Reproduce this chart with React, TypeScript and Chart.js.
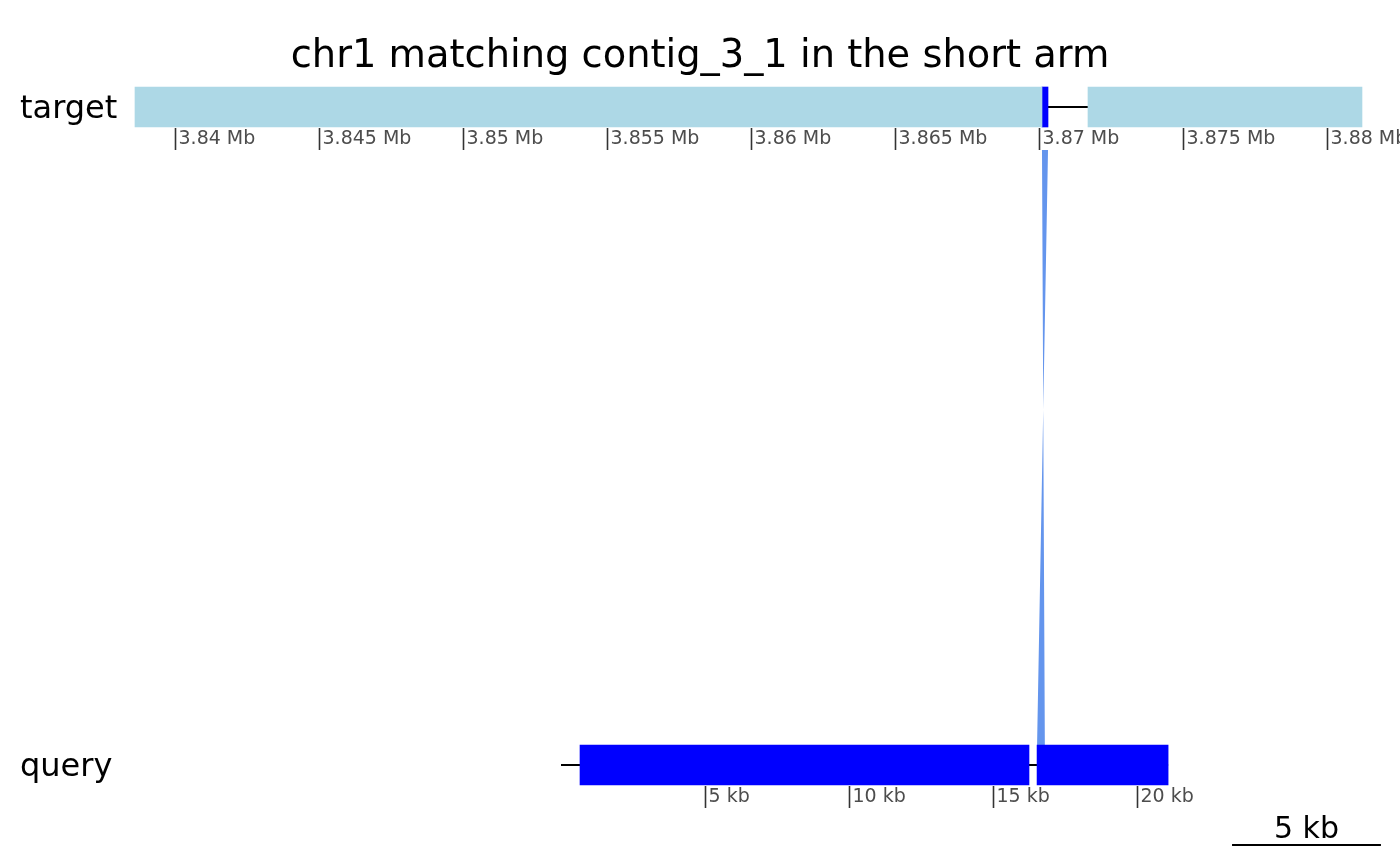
import React, { useEffect, useRef } from 'react';
import { Chart, registerables } from 'chart.js';

Chart.register(...registerables);

// ---------------- data ----------------
const TITLE = 'chr1 matching contig_3_1 in the short arm';
const ROW_NAMES = ['query', 'target'];

// target sequence (Mb)
const TARGET_SEQ = [3.838611, 3.881215];
const TARGET_BLOCKS = [
  [3.838611, 3.870104],
  [3.871701, 3.881215],
];
const TARGET_HITS = [[3.870104, 3.870313]];
const TARGET_TICKS = [3.84, 3.845, 3.85, 3.855, 3.86, 3.865, 3.87, 3.875, 3.88];
const TARGET_TICK_LABELS = ['3.84 Mb', '3.845 Mb', '3.85 Mb', '3.855 Mb', '3.86 Mb', '3.865 Mb', '3.87 Mb', '3.875 Mb', '3.88 Mb'];

// query sequence (kb)
const QUERY_SEQ = [0, 21.08];
const QUERY_BLOCKS = [
  [0.66, 16.25],
  [16.53, 21.08],
];
const QUERY_TICKS = [5, 10, 15, 20];
const QUERY_TICK_LABELS = ['5 kb', '10 kb', '15 kb', '20 kb'];

// link (inverted match): target Mb, query kb
const LINK_TARGET = [3.870104, 3.870313];
const LINK_QUERY = [16.53, 16.8];

// scale bar (kb on query axis)
const SCALE_BAR = [23.3, 28.47];
const SCALE_BAR_LABEL = '5 kb';

// ---------------- layout constants ----------------
const FONT = "'DejaVu Sans', sans-serif";
const W = 1400;
const H = 865;
const PAD_X = 20;
const AREA_LEFT = 130;
const AREA_RIGHT = W - PAD_X;
const AREA_TOP = 80;
const PX_PER_KB = 28.8;
const ROW_PX = 658; // pixels between rows
const Y_MAX = 1 + (107 - AREA_TOP) / ROW_PX;
const Y_MIN = Y_MAX - (H - AREA_TOP) / ROW_PX;
const T_ORIGIN_PX = 175; // 3.84 Mb
const Q_ORIGIN_PX = 561; // 0 kb
const XT_MIN = 3.84 + (AREA_LEFT - T_ORIGIN_PX) / PX_PER_KB / 1000;
const XT_MAX = 3.84 + (AREA_RIGHT - T_ORIGIN_PX) / PX_PER_KB / 1000;
const XQ_MIN = (AREA_LEFT - Q_ORIGIN_PX) / PX_PER_KB;
const XQ_MAX = (AREA_RIGHT - Q_ORIGIN_PX) / PX_PER_KB;
const TICK_TOP_OFFSET = 21; // px below the row centre
const TICK_LEN = 22;
const LINK_Y = [1 - 43 / ROW_PX, 20 / ROW_PX];
const SCALE_BAR_Y = -80 / ROW_PX;
const TITLE_SIZE = 38.4;
const TITLE_PAD_TOP = 34;

const decorPlugin = {
  id: 'decorPlugin',
  beforeDatasetsDraw(chart: any) {
    const { ctx, scales } = chart;
    const xT = scales.xT, xQ = scales.xQ, y = scales.y;
    // link ribbon
    const top = y.getPixelForValue(LINK_Y[0]);
    const bot = y.getPixelForValue(LINK_Y[1]);
    ctx.save();
    ctx.fillStyle = '#6495ED';
    ctx.beginPath();
    ctx.moveTo(xT.getPixelForValue(LINK_TARGET[0]), top);
    ctx.lineTo(xT.getPixelForValue(LINK_TARGET[1]), top);
    ctx.lineTo(xQ.getPixelForValue(LINK_QUERY[0]), bot);
    ctx.lineTo(xQ.getPixelForValue(LINK_QUERY[1]), bot);
    ctx.closePath();
    ctx.fill();
    ctx.restore();
  },
  afterDatasetsDraw(chart: any) {
    const { ctx, scales } = chart;
    const xT = scales.xT, xQ = scales.xQ, y = scales.y;
    const drawAxis = (scale: any, rowValue: number, ticks: number[], labels: string[]) => {
      const y0 = y.getPixelForValue(rowValue) + TICK_TOP_OFFSET;
      ctx.save();
      ctx.strokeStyle = '#333333';
      ctx.lineWidth = 1.6;
      ctx.fillStyle = '#4D4D4D';
      ctx.font = `19px ${FONT}`;
      ctx.textAlign = 'left';
      ctx.textBaseline = 'middle';
      ticks.forEach((v, i) => {
        const x = Math.round(scale.getPixelForValue(v)) + 0.5;
        ctx.beginPath();
        ctx.moveTo(x, y0);
        ctx.lineTo(x, y0 + TICK_LEN);
        ctx.stroke();
        ctx.fillText(labels[i], x + 3, y0 + 11.5);
      });
      ctx.restore();
    };
    drawAxis(xT, 1, TARGET_TICKS, TARGET_TICK_LABELS);
    drawAxis(xQ, 0, QUERY_TICKS, QUERY_TICK_LABELS);

    // scale bar label
    const cx = (xQ.getPixelForValue(SCALE_BAR[0]) + xQ.getPixelForValue(SCALE_BAR[1])) / 2;
    const cy = y.getPixelForValue(SCALE_BAR_Y);
    ctx.save();
    ctx.fillStyle = '#000';
    ctx.font = `30px ${FONT}`;
    ctx.textAlign = 'center';
    ctx.textBaseline = 'alphabetic';
    ctx.fillText(SCALE_BAR_LABEL, cx, cy - 7);
    ctx.restore();
  },
};

const hiddenX = (min: number, max: number) => ({
  type: 'linear',
  axis: 'x',
  position: 'bottom',
  display: false,
  offset: false,
  min,
  max,
  grid: { offset: false },
});

export default function App() {
  const ref = useRef<HTMLCanvasElement | null>(null);
  useEffect(() => {
    document.body.style.margin = '0';
    const canvas = ref.current!;
    const line = (axisId: string, a: number, b: number, yv: number, w: number) => ({
      type: 'line',
      indexAxis: 'x',
      xAxisID: axisId,
      yAxisID: 'y',
      data: [
        { x: a, y: yv },
        { x: b, y: yv },
      ],
      borderColor: '#000000',
      borderWidth: w,
      pointRadius: 0,
      fill: false,
      clip: false,
      order: 5,
    });
    const bars = (axisId: string, blocks: number[][], yv: number, color: string) => ({
      type: 'bar',
      indexAxis: 'y',
      xAxisID: axisId,
      yAxisID: 'y',
      data: blocks.map((b) => ({ x: b, y: yv })),
      backgroundColor: color,
      borderWidth: 0,
      barThickness: 40,
      grouped: false,
      clip: false,
      order: 1,
    });
    const chart = new Chart(canvas, {
      type: 'bar',
      data: {
        datasets: [
          bars('xT', TARGET_BLOCKS, 1, '#ADD8E6'),
          bars('xT', TARGET_HITS, 1, '#0000FF'),
          bars('xQ', QUERY_BLOCKS, 0, '#0000FF'),
          line('xT', TARGET_SEQ[0], TARGET_SEQ[1], 1, 2),
          line('xQ', QUERY_SEQ[0], QUERY_SEQ[1], 0, 2),
          line('xQ', SCALE_BAR[0], SCALE_BAR[1], SCALE_BAR_Y, 2),
        ] as any,
      },
      options: {
        indexAxis: 'y',
        responsive: false,
        animation: false,
        devicePixelRatio: 1,
        layout: { padding: { left: PAD_X, right: PAD_X, top: 0, bottom: 0 } },
        plugins: {
          legend: { display: false },
          tooltip: { enabled: false },
          title: {
            display: true,
            text: TITLE,
            color: '#000000',
            font: { family: FONT, size: TITLE_SIZE, weight: 'normal', lineHeight: 1.2 },
            padding: { top: TITLE_PAD_TOP, bottom: AREA_TOP - TITLE_PAD_TOP - TITLE_SIZE * 1.2 },
          },
        },
        scales: {
          y: {
            type: 'linear',
            position: 'left',
            offset: false,
            min: Y_MIN,
            max: Y_MAX,
            afterBuildTicks: (s: any) => {
              s.ticks = [{ value: 0 }, { value: 1 }];
            },
            afterFit: (s: any) => {
              s.width = AREA_LEFT - PAD_X;
              s.paddingTop = 0;
              s.paddingBottom = 0;
            },
            ticks: {
              crossAlign: 'far',
              padding: 0,
              labelOffset: 3,
              color: '#000000',
              font: { family: FONT, size: 32 },
              callback: (v: any) => ROW_NAMES[Math.round(Number(v))],
            },
            grid: { display: false, offset: false },
            border: { display: false },
          },
          xT: hiddenX(XT_MIN, XT_MAX),
          xQ: hiddenX(XQ_MIN, XQ_MAX),
        } as any,
      },
      plugins: [decorPlugin],
    } as any);
    return () => chart.destroy();
  }, []);
  return <canvas ref={ref} width={W} height={H} style={{ display: 'block' }} />;
}
